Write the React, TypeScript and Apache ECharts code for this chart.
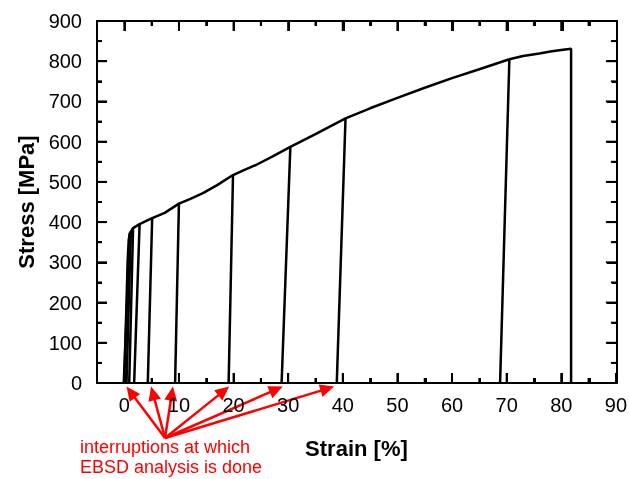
import React, { useEffect, useRef } from 'react';
import * as echarts from 'echarts';

// Loading envelope of the tensile test (strain %, stress MPa)
const envelopeStrain = [0, 0.3, 0.6, 0.8, 1.0, 1.6, 2.8, 5.1, 7.4, 10, 12, 14.4, 17, 19.9, 22, 24.1, 27, 30.4, 35, 40.5, 45, 50, 55, 60, 65, 70.5, 73, 76, 78, 80, 81.8, 81.8];
const envelopeStress = [0, 150, 300, 355, 372, 385, 395, 410, 423, 446, 457, 472, 492, 517, 530, 542, 562, 587, 619, 658, 683, 709, 734, 758, 780, 805, 813, 819, 824, 828, 831, 0];

// Unloading segments at the interruptions
const unloadTopStrain = [1.0, 1.2, 1.6, 2.8, 5.1, 10.0, 19.9, 30.4, 40.5, 70.5];
const unloadTopStress = [372, 376, 385, 395, 410, 446, 517, 587, 658, 805];
const unloadBottomStrain = [-0.1, 0.4, 0.9, 1.8, 4.3, 9.3, 19.1, 28.8, 38.9, 68.8];

const xMajorTicks = [0, 10, 20, 30, 40, 50, 60, 70, 80, 90];
const xMinorTicks = [5, 15, 25, 35, 45, 55, 65, 75, 85];
const yMajorTicks = [100, 200, 300, 400, 500, 600, 700, 800];
const yMinorTicks = [50, 150, 250, 350, 450, 550, 650, 750, 850];

// Annotation arrows point at these strains on the axis
const arrowTargetStrain = [0.4, 4.9, 8.9, 19.2, 29.0, 38.4];
const annotationText = 'interruptions at which\nEBSD analysis is done';

const FONT = 'Arial, "Liberation Sans", sans-serif';
const X_MIN = -5;
const X_MAX = 90;
const Y_MIN = 0;
const Y_MAX = 900;

export default function App() {
  const ref = useRef<HTMLDivElement>(null);

  useEffect(() => {
    if (!ref.current) return;
    const chart = echarts.init(ref.current, undefined, { renderer: 'svg' });
    const gridRect = { left: 97, right: 13, top: 21, bottom: 96 };

    const frameLine = () => ({ show: true, onZero: false, lineStyle: { color: '#000', width: 2 } });
    const noLine = () => ({ show: false, onZero: false });
    const tickStyle = () => ({ color: '#000', width: 2 });

    const envelopeData = envelopeStrain.map((x, i) => [x, envelopeStress[i]]);
    const unloadSeries = unloadTopStrain.map((x, i) => ({
      type: 'line',
      xAxisIndex: 0,
      yAxisIndex: 0,
      showSymbol: false,
      lineStyle: { color: '#000', width: 2.5 },
      data: [
        [x, unloadTopStress[i]],
        [unloadBottomStrain[i], 0],
      ],
    }));

    const hiddenX = (g: number) => ({ gridIndex: g, type: 'value', min: X_MIN, max: X_MAX, show: false });
    const hiddenY = (g: number) => ({ gridIndex: g, type: 'value', min: Y_MIN, max: Y_MAX, show: false });

    const option: any = {
      animation: false,
      grid: [0, 1, 2, 3, 4].map(() => ({ ...gridRect })),
      xAxis: [
        {
          gridIndex: 0,
          type: 'value',
          position: 'bottom',
          min: X_MIN,
          max: X_MAX,
          axisLine: frameLine(),
          axisTick: { show: true, inside: true, length: 10, customValues: xMajorTicks, lineStyle: tickStyle() },
          axisLabel: { show: true, customValues: xMajorTicks, fontSize: 20, color: '#000', margin: 12, fontFamily: FONT },
          splitLine: { show: false },
          name: 'Strain [%]',
          nameLocation: 'middle',
          nameGap: 54,
          nameTextStyle: { fontSize: 22, fontWeight: 'bold', color: '#000', fontFamily: FONT },
        },
        {
          gridIndex: 1,
          type: 'value',
          position: 'bottom',
          min: X_MIN,
          max: X_MAX,
          axisLine: noLine(),
          axisTick: { show: true, inside: true, length: 5, customValues: xMinorTicks, lineStyle: tickStyle() },
          axisLabel: { show: false },
          splitLine: { show: false },
        },
        {
          gridIndex: 2,
          type: 'value',
          position: 'top',
          min: X_MIN,
          max: X_MAX,
          axisLine: frameLine(),
          axisTick: { show: true, inside: true, length: 10, customValues: xMajorTicks, lineStyle: tickStyle() },
          axisLabel: { show: false },
          splitLine: { show: false },
        },
        {
          gridIndex: 3,
          type: 'value',
          position: 'top',
          min: X_MIN,
          max: X_MAX,
          axisLine: noLine(),
          axisTick: { show: true, inside: true, length: 5, customValues: xMinorTicks, lineStyle: tickStyle() },
          axisLabel: { show: false },
          splitLine: { show: false },
        },
        hiddenX(4),
      ],
      yAxis: [
        {
          gridIndex: 0,
          type: 'value',
          position: 'left',
          min: Y_MIN,
          max: Y_MAX,
          interval: 100,
          axisLine: frameLine(),
          axisTick: { show: true, inside: true, length: 10, lineStyle: tickStyle() },
          minorTick: { show: true, splitNumber: 2, length: 5, lineStyle: tickStyle() },
          axisLabel: { show: true, fontSize: 20, color: '#000', margin: 15, fontFamily: FONT },
          splitLine: { show: false },
          name: 'Stress [MPa]',
          nameLocation: 'middle',
          nameGap: 56,
          nameRotate: 90,
          nameTextStyle: { fontSize: 22, fontWeight: 'bold', color: '#000', fontFamily: FONT },
        },
        hiddenY(1),
        hiddenY(2),
        hiddenY(3),
        {
          gridIndex: 4,
          type: 'value',
          position: 'right',
          min: Y_MIN,
          max: Y_MAX,
          interval: 100,
          axisLine: frameLine(),
          axisTick: { show: true, inside: true, length: 10, lineStyle: tickStyle() },
          minorTick: { show: true, splitNumber: 2, length: 5, lineStyle: tickStyle() },
          axisLabel: { show: false },
          splitLine: { show: false },
        },
      ],
      series: [
        {
          type: 'line',
          xAxisIndex: 0,
          yAxisIndex: 0,
          showSymbol: false,
          lineStyle: { color: '#000', width: 2.5 },
          data: envelopeData,
        },
        ...unloadSeries,
      ],
    };

    chart.setOption(option);

    const toPx = (x: number, y: number) =>
      chart.convertToPixel({ xAxisIndex: 0, yAxisIndex: 0 } as any, [x, y]) as number[];
    const graphics: any[] = [];
    const tickRect = (x: number, y: number, w: number, h: number) => ({
      type: 'rect',
      silent: true,
      z: 100,
      shape: { x, y, width: w, height: h },
      style: { fill: '#000' },
    });

    // Inward ticks on all four sides, placed through the axes' scales
    const addXTicks = (values: number[], len: number) => {
      values.forEach((v) => {
        const b = toPx(v, Y_MIN);
        const t = toPx(v, Y_MAX);
        graphics.push(tickRect(b[0] - 1, b[1] - len, 2, len));
        graphics.push(tickRect(t[0] - 1, t[1], 2, len));
      });
    };
    const addYTicks = (values: number[], len: number) => {
      values.forEach((v) => {
        const l = toPx(X_MIN, v);
        const r = toPx(X_MAX, v);
        graphics.push(tickRect(l[0], l[1] - 1, len, 2));
        graphics.push(tickRect(r[0] - len, r[1] - 1, len, 2));
      });
    };
    addXTicks(xMajorTicks.filter((v) => v < X_MAX), 10);
    addXTicks(xMinorTicks, 5);
    addYTicks(yMajorTicks, 10);
    addYTicks(yMinorTicks, 5);

    // Annotation: red arrows from the label to the interruption points
    const origin = [165, 438];
    arrowTargetStrain.forEach((s) => {
      const tip = toPx(s, -9);
      const dx = tip[0] - origin[0];
      const dy = tip[1] - origin[1];
      const len = Math.sqrt(dx * dx + dy * dy);
      const ux = dx / len;
      const uy = dy / len;
      const headLen = 14;
      const headHalf = 6.5;
      const bx = tip[0] - ux * headLen;
      const by = tip[1] - uy * headLen;
      const px = -uy * headHalf;
      const py = ux * headHalf;
      graphics.push({
        type: 'line',
        silent: true,
        shape: { x1: origin[0], y1: origin[1], x2: bx + ux * 2, y2: by + uy * 2 },
        style: { stroke: '#ff0000', lineWidth: 2.5 },
      });
      graphics.push({
        type: 'polygon',
        silent: true,
        shape: { points: [[tip[0], tip[1]], [bx + px, by + py], [bx - px, by - py]] },
        style: { fill: '#ff0000' },
      });
    });
    graphics.push({
      type: 'text',
      left: 80,
      top: 437,
      silent: true,
      style: {
        text: annotationText,
        fill: '#ff0000',
        fontSize: 18,
        fontFamily: FONT,
        lineHeight: 20,
      },
    });
    chart.setOption({ graphic: graphics });

    return () => {
      chart.dispose();
    };
  }, []);

  return (
    <div
      ref={ref}
      style={{ position: 'fixed', left: 0, top: 0, width: 630, height: 479 }}
    />
  );
}
